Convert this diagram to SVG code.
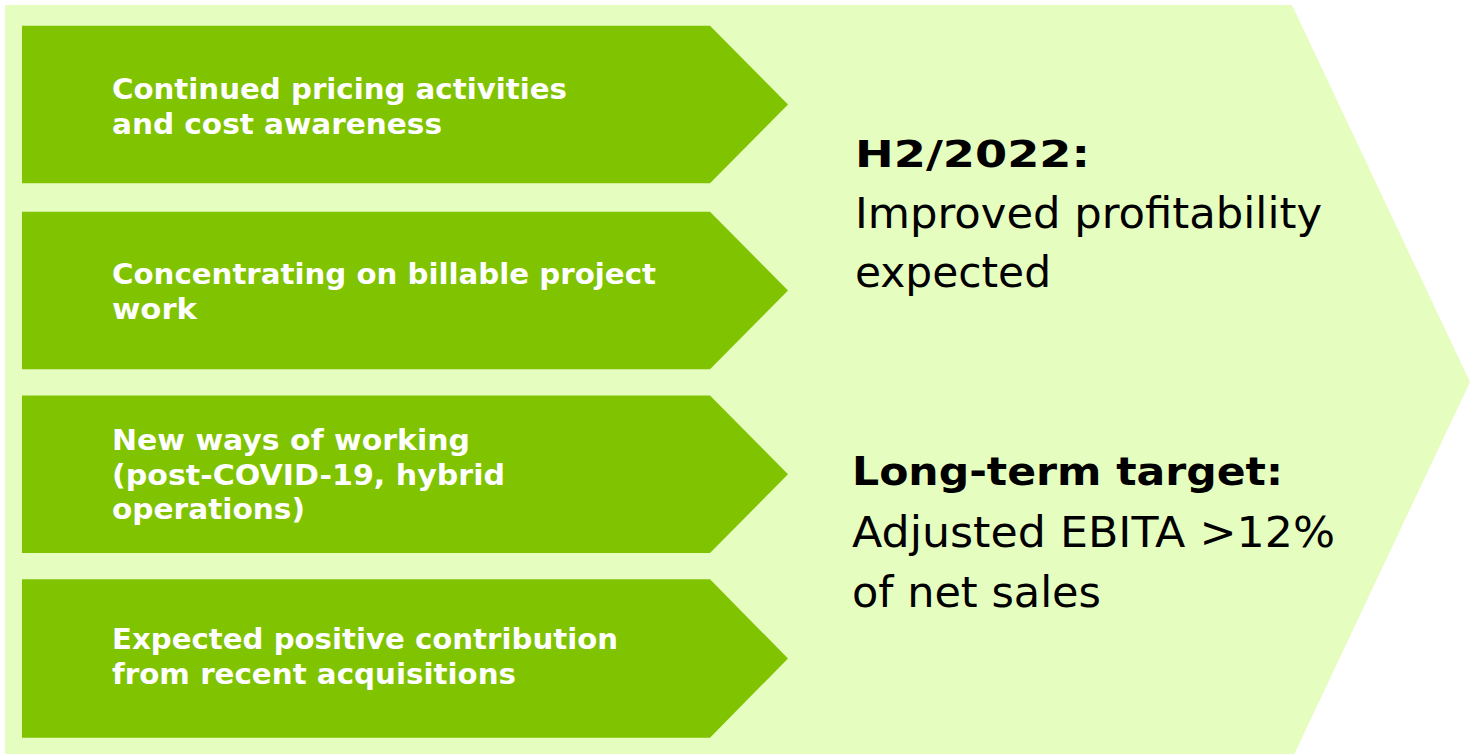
<svg xmlns="http://www.w3.org/2000/svg" width="1478" height="754" viewBox="0 0 1478 754">
<style>
.bg{fill:#E6FDC0}
.chev{fill:#80C300}
.lt{font-family:"DejaVu Sans","Liberation Sans",sans-serif;font-weight:bold;font-size:29px;fill:#FFFFFF}
.rb{font-family:"DejaVu Sans","Liberation Sans",sans-serif;font-weight:bold;fill:#000000}
.rr{font-family:"DejaVu Sans","Liberation Sans",sans-serif;font-size:42.5px;fill:#000000}
</style>
<rect x="0" y="0" width="1478" height="754" fill="#FFFFFF"/>
<g id="background">
<polygon class="bg" points="5,5 1292,5 1470,382 1292,759 5,759"/>
</g>
<g id="node1">
<polygon class="chev" points="22,25.7 710,25.7 788,104.5 710,183.3 22,183.3"/>
<text class="lt" x="112" y="99" textLength="455" lengthAdjust="spacingAndGlyphs">Continued pricing activities</text>
<text class="lt" x="112" y="134" textLength="330" lengthAdjust="spacingAndGlyphs">and cost awareness</text>
</g>
<g id="node2">
<polygon class="chev" points="22,211.7 710,211.7 788,290.5 710,369.3 22,369.3"/>
<text class="lt" x="112" y="284" textLength="544" lengthAdjust="spacingAndGlyphs">Concentrating on billable project</text>
<text class="lt" x="112" y="319" textLength="85" lengthAdjust="spacingAndGlyphs">work</text>
</g>
<g id="node3">
<polygon class="chev" points="22,395.5 710,395.5 788,474.3 710,553.1 22,553.1"/>
<text class="lt" x="112" y="450" textLength="358" lengthAdjust="spacingAndGlyphs">New ways of working</text>
<text class="lt" x="112" y="484.5" textLength="393" lengthAdjust="spacingAndGlyphs">(post-COVID-19, hybrid</text>
<text class="lt" x="112" y="519" textLength="193" lengthAdjust="spacingAndGlyphs">operations)</text>
</g>
<g id="node4">
<polygon class="chev" points="22,579.3 710,579.3 788,658.5 710,737.7 22,737.7"/>
<text class="lt" x="112" y="649" textLength="506" lengthAdjust="spacingAndGlyphs">Expected positive contribution</text>
<text class="lt" x="112" y="684" textLength="404" lengthAdjust="spacingAndGlyphs">from recent acquisitions</text>
</g>
<g id="outcome1">
<text class="rb" x="855" y="166.7" font-size="38" textLength="235" lengthAdjust="spacingAndGlyphs">H2/2022:</text>
<text class="rr" x="855" y="228.3" textLength="467" lengthAdjust="spacingAndGlyphs">Improved profitability</text>
<text class="rr" x="855" y="286.7" textLength="196" lengthAdjust="spacingAndGlyphs">expected</text>
</g>
<g id="outcome2">
<text class="rb" x="852" y="485" font-size="39" textLength="431" lengthAdjust="spacingAndGlyphs">Long-term target:</text>
<text class="rr" x="852" y="546.7" textLength="483" lengthAdjust="spacingAndGlyphs">Adjusted EBITA &gt;12%</text>
<text class="rr" x="852" y="606.7" textLength="249" lengthAdjust="spacingAndGlyphs">of net sales</text>
</g>
<g id="connectors"/>
</svg>
